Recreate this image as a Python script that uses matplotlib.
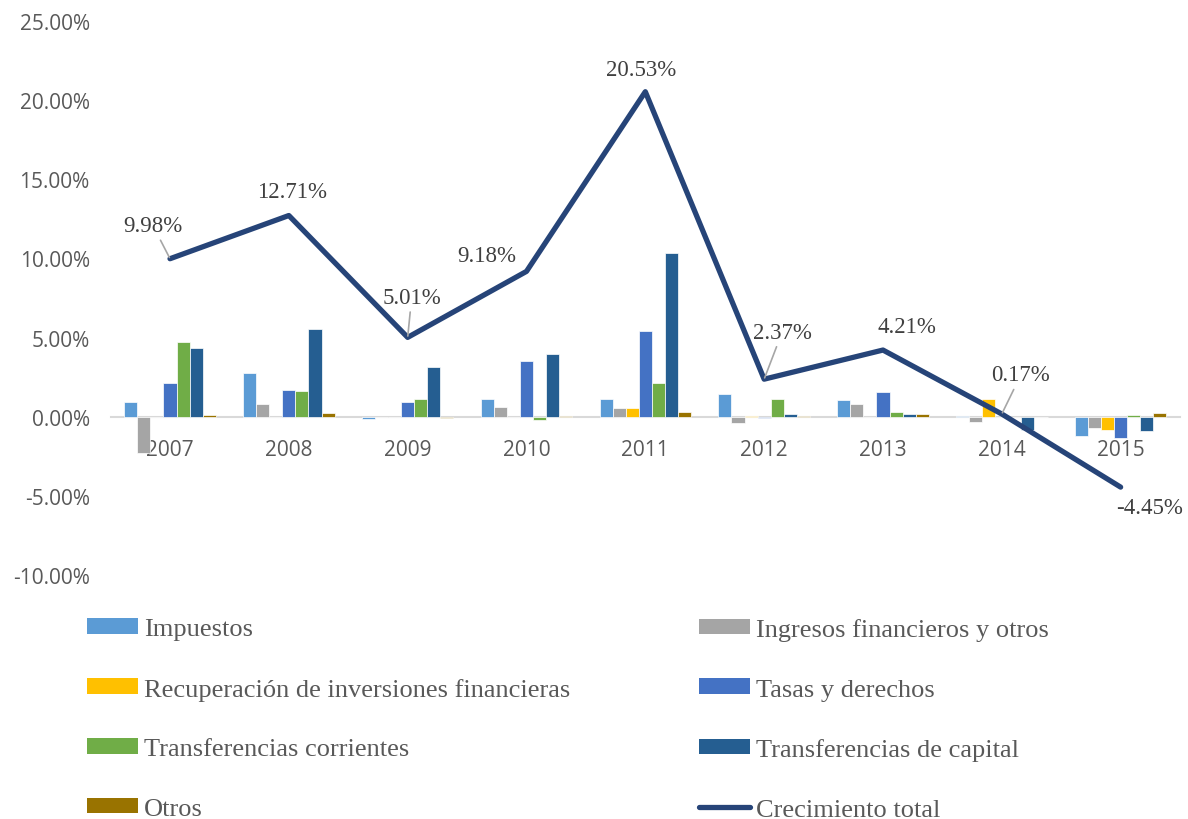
import numpy as np
from matplotlib import pyplot as plt
from matplotlib.ticker import FuncFormatter
from matplotlib.lines import Line2D
from matplotlib.patches import Patch

years = ['2007', '2008', '2009', '2010', '2011', '2012', '2013', '2014', '2015']

# componentes del crecimiento (%)
impuestos = [0.93, 2.74, -0.15, 1.10, 1.14, 1.42, 1.05, 0.03, -1.20]
ingresos_fin = [-2.32, 0.80, 0.0, 0.63, 0.57, -0.38, 0.78, -0.32, -0.72]
recuperacion = [0.0, 0.0, 0.0, 0.0, 0.55, 0.03, 0.0, 1.11, -0.87]
tasas = [2.15, 1.69, 0.93, 3.50, 5.44, -0.08, 1.56, 0.0, -1.35]
transf_corrientes = [4.73, 1.65, 1.14, -0.18, 2.15, 1.10, 0.32, 0.0, 0.10]
transf_capital = [4.33, 5.57, 3.14, 3.97, 10.34, 0.17, 0.19, -0.87, -0.91]
otros = [0.08, 0.23, -0.10, 0.07, 0.30, 0.05, 0.15, 0.0, 0.25]

crecimiento_total = [9.98, 12.71, 5.01, 9.18, 20.53, 2.37, 4.21, 0.17, -4.45]

series = [impuestos, ingresos_fin, recuperacion, tasas, transf_corrientes, transf_capital, otros]
names = ['Impuestos', 'Ingresos financieros y otros', 'Recuperación de inversiones financieras',
         'Tasas y derechos', 'Transferencias corrientes', 'Transferencias de capital', 'Otros']
colors = ['#5B9BD5', '#A5A5A5', '#FFC000', '#4472C4', '#70AD47', '#255E91', '#997300']
line_color = '#264478'

fig = plt.figure(figsize=(11.88, 8.2), dpi=100)
ax = fig.add_axes([0.0931, 0.2976, 0.9002, 0.6756])

x = np.arange(len(years))
w = 0.11
for i in range(len(series)):
    ax.bar(x + (i - 3) * w, series[i], width=w, color=colors[i],
           edgecolor='white', linewidth=0.5, zorder=2)

ax.plot(x, crecimiento_total, color=line_color, linewidth=3.8,
        solid_joinstyle='round', solid_capstyle='round', zorder=4)

# etiquetas de datos (offset en pixeles) y lineas guia
offsets = [(-17, 33), (3, 24), (4, 40), (-40, 16), (-4, 22), (18, 47), (24, 24), (19, 39), (29, -20)]
leaders = [True, False, True, False, False, True, False, True, False]
for i in range(len(x)):
    props = None
    if leaders[i]:
        props = dict(arrowstyle='-', color='#A6A6A6', lw=1.2, shrinkA=1, shrinkB=1)
    ax.annotate('%.2f%%' % crecimiento_total[i], xy=(x[i], crecimiento_total[i]),
                xytext=offsets[i], textcoords='offset pixels', ha='center', va='center',
                family='Liberation Serif', fontsize=16.5, color='#404040',
                arrowprops=props, zorder=5)

ax.set_xlim(-0.5, 8.5)
ax.set_ylim(-10, 25)
ax.set_yticks(np.arange(-10, 26, 5))
ax.yaxis.set_major_formatter(FuncFormatter(lambda v, p: '%.2f%%' % v))
ax.set_xticks(x)
ax.set_xticklabels(years)

for s in ['top', 'right', 'left']:
    ax.spines[s].set_visible(False)
ax.spines['bottom'].set_position(('data', 0))
ax.spines['bottom'].set_color('#D9D9D9')
ax.spines['bottom'].set_linewidth(1.5)
ax.spines['bottom'].set_zorder(1)

ax.tick_params(axis='x', length=0, pad=16, labelsize=15, labelcolor='#595959')
ax.tick_params(axis='y', length=0, pad=15, labelsize=15, labelcolor='#595959')
for lab in ax.get_xticklabels() + ax.get_yticklabels():
    lab.set_family('Open Sans')

# leyenda en dos columnas
col1 = [0, 2, 4, 6]
col2 = [1, 3, 5]
h1 = [Patch(facecolor=colors[i], edgecolor='none') for i in col1]
h2 = [Patch(facecolor=colors[i], edgecolor='none') for i in col2]
h2.append(Line2D([0], [0], color=line_color, linewidth=3.8, solid_capstyle='round'))
l1 = [names[i] for i in col1]
l2 = [names[i] for i in col2] + ['Crecimiento total']

leg_kw = dict(loc='upper left', frameon=False, borderpad=0, borderaxespad=0,
              handlelength=1.95, handleheight=0.53, handletextpad=0.22,
              labelspacing=1.42, labelcolor='#595959',
              prop={'family': 'Liberation Serif', 'size': 19})
fig.legend(h1, l1, bbox_to_anchor=(87 / 1188, 1 - 619 / 820), **leg_kw)
fig.legend(h2, l2, bbox_to_anchor=(699 / 1188, 1 - 619 / 820), **leg_kw)

plt.savefig('out.png', dpi=100)
